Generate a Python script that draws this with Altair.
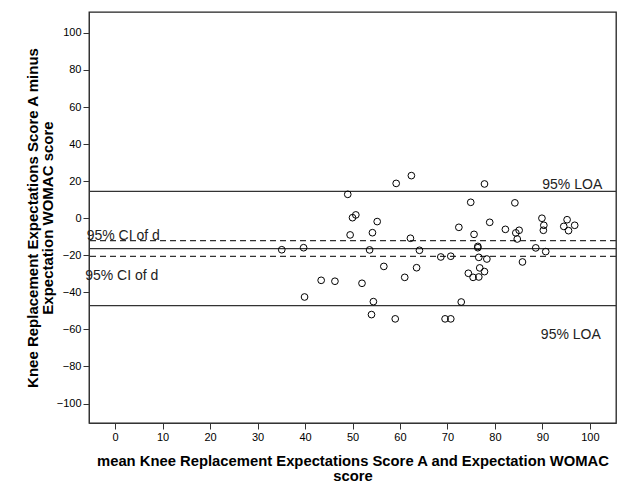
import altair as alt
import pandas as pd

# Data (mean of scores, difference of scores)
mean_vals = [35.1, 39.7, 39.9, 43.4, 46.3, 49.0, 49.5, 50.0, 50.7, 52.0,
             53.6, 54.2, 54.4, 54.0, 55.2, 56.6, 59.2, 59.0, 61.0, 62.4,
             62.2, 64.1, 63.5, 68.6, 69.5, 70.7, 70.7, 77.8, 74.9, 84.2,
             72.4, 78.9, 82.2, 85.1, 84.4, 84.7, 75.6, 76.4, 76.4, 76.6,
             78.3, 85.8, 76.8, 74.4, 75.4, 76.6, 77.8, 72.9, 88.6, 90.7,
             89.9, 90.3, 90.2, 95.2, 94.5, 95.5, 96.8]
diff_vals = [-17.0, -15.9, -42.5, -33.5, -34.0, 12.9, -9.0, 0.3, 1.8, -35.1,
             -17.1, -7.8, -45.0, -52.0, -1.8, -26.0, 18.8, -54.3, -31.9, 23.0,
             -10.8, -17.3, -26.7, -20.9, -54.3, -54.3, -20.5, 18.5, 8.6, 8.3,
             -4.9, -2.2, -6.0, -6.5, -7.9, -11.2, -8.7, -15.2, -15.9, -21.1,
             -22.0, -23.6, -26.8, -29.7, -31.9, -31.7, -28.8, -45.2, -16.0, -18.0,
             0.0, -3.8, -6.5, -0.8, -4.4, -6.7, -3.8]

solid_lines = [14.5, -16.4, -47.2]     # upper LOA, mean difference, lower LOA
dashed_lines = [-12.1, -20.6]          # 95% CI of mean difference

label_texts = ["95% LOA", "95% LOA", "95% CI of d", "95% CI of d"]
label_x = [102.6, 102.3, -6.0, -6.3]
label_y = [18.1, -62.8, -9.8, -31.4]
label_align = ["right", "right", "left", "left"]

x_ticks = list(range(0, 101, 10))
y_ticks = list(range(-100, 101, 20))

XDOM = [-5.5, 105.5]
YDOM = [-110.5, 111.3]
FONT = "Liberation Sans"

pts = pd.DataFrame({"m": mean_vals, "d": diff_vals})
solid_df = pd.DataFrame({"y": solid_lines})
dash_df = pd.DataFrame({"y": dashed_lines})
lab_df = pd.DataFrame({"t": label_texts, "x": label_x, "y": label_y, "a": label_align})

xscale = alt.Scale(domain=XDOM, nice=False, zero=False)
yscale = alt.Scale(domain=YDOM, nice=False, zero=False)

x_axis = alt.Axis(
    values=x_ticks, grid=False, tickSize=6, labelPadding=2, labelFontSize=11,
    labelColor="#000", tickColor="#333", domainColor="#333", labelFont=FONT,
    title=["mean Knee Replacement Expectations Score A and Expectation WOMAC", "score"],
    titleFont=FONT, titleFontSize=14.8, titleFontWeight="bold", titleColor="#000",
    titlePadding=11, titleLineHeight=15,
)
y_axis = alt.Axis(
    values=y_ticks, grid=False, tickSize=6, labelPadding=2, labelFontSize=11,
    labelColor="#000", tickColor="#333", domainColor="#333", labelFont=FONT,
    title=["Knee Replacement Expectations Score A minus", "Expectation WOMAC score"],
    titleFont=FONT, titleFontSize=15, titleFontWeight="bold", titleColor="#000",
    titlePadding=1, titleLineHeight=15,
)

points = alt.Chart(pts).mark_point(
    shape="circle", filled=False, color="black", size=45, strokeWidth=1, opacity=1
).encode(
    x=alt.X("m:Q", scale=xscale, axis=x_axis),
    y=alt.Y("d:Q", scale=yscale, axis=y_axis),
)

solid = alt.Chart(solid_df).mark_rule(color="#333", strokeWidth=1.3).encode(
    y=alt.Y("y:Q", scale=yscale)
)
dashed = alt.Chart(dash_df).mark_rule(color="#333", strokeWidth=1.3, strokeDash=[6, 4]).encode(
    y=alt.Y("y:Q", scale=yscale)
)

labels_r = alt.Chart(lab_df[lab_df.a == "right"]).mark_text(
    align="right", baseline="middle", font=FONT, fontSize=14, color="#222"
).encode(x=alt.X("x:Q", scale=xscale), y=alt.Y("y:Q", scale=yscale), text="t:N")
labels_l = alt.Chart(lab_df[lab_df.a == "left"]).mark_text(
    align="left", baseline="middle", font=FONT, fontSize=14, color="#222"
).encode(x=alt.X("x:Q", scale=xscale), y=alt.Y("y:Q", scale=yscale), text="t:N")

chart = alt.layer(solid, dashed, points, labels_r, labels_l).properties(
    width=527, height=411,
    autosize=alt.AutoSizeParams(type="none"),
    padding={"left": 81, "top": 4, "right": 5, "bottom": 75},
    background="white",
).configure_view(stroke="#222", strokeWidth=1.3)

chart.save("out.html", embed_options={"renderer": "svg", "actions": False})
